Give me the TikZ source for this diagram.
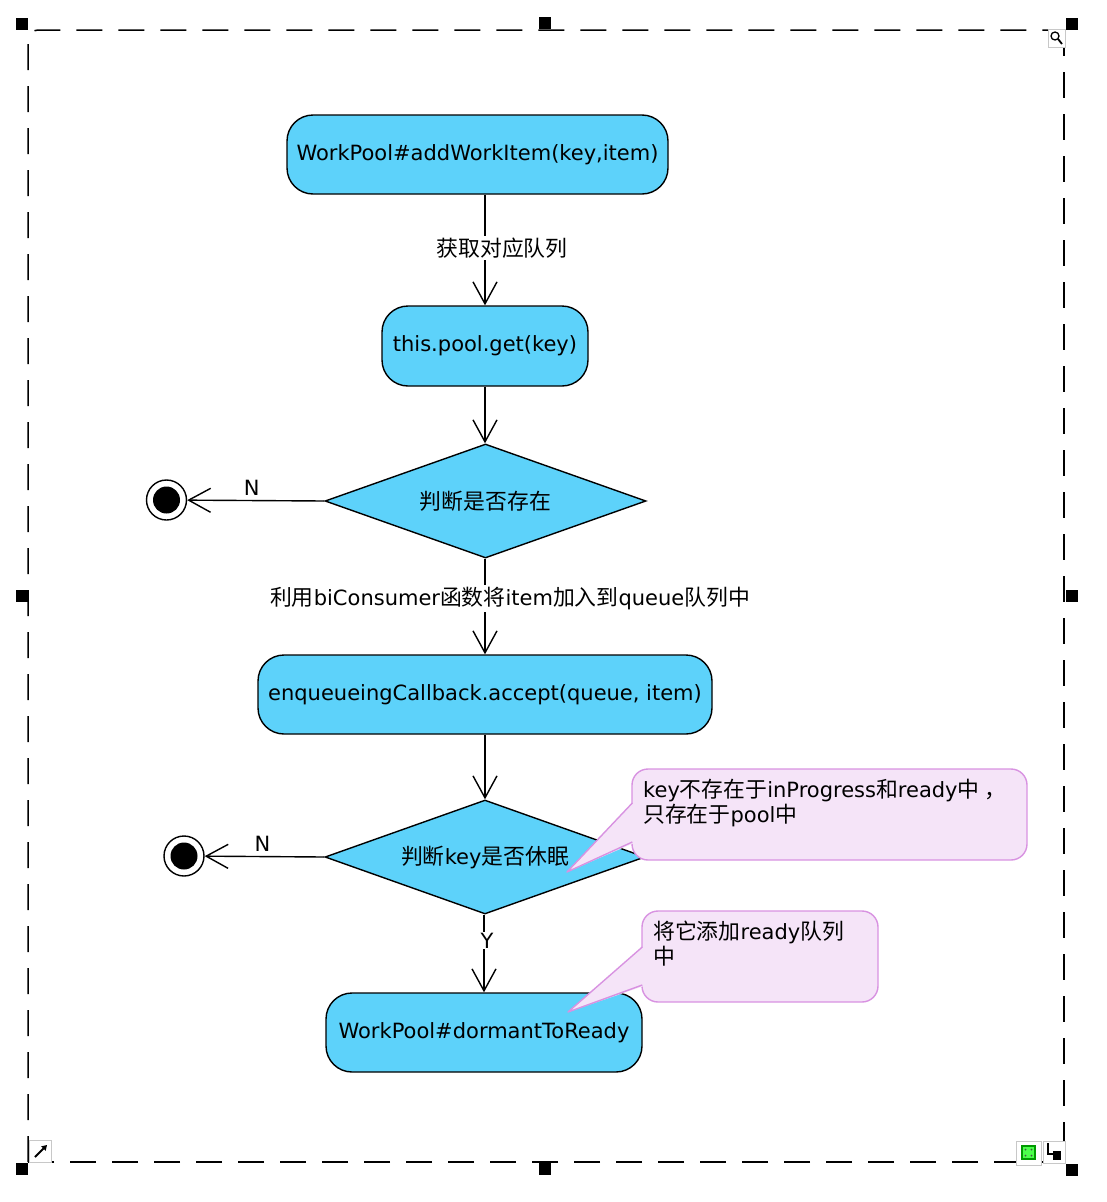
\documentclass[tikz,border=0pt]{standalone}
\usepackage{fontspec}
\setmainfont{DejaVu Sans}
\newfontfamily\cjk{Noto Sans CJK SC}[Scale=1.04]
\usetikzlibrary{arrows.meta,shapes.geometric}
\newcommand\zh[1]{{\cjk #1}}
\definecolor{actfill}{RGB}{93,210,250}
\definecolor{notefill}{RGB}{245,228,248}
\definecolor{noteline}{RGB}{216,146,225}
\definecolor{iconbox}{RGB}{200,200,200}
\begin{document}
\begin{tikzpicture}[x=1pt,y=-1pt,
  every node/.style={font=\fontsize{21}{25}\selectfont},
  act/.style={draw, fill=actfill, line width=1.4pt, rounded corners=26pt, inner sep=0pt},
  dec/.style={draw, fill=actfill, diamond, line width=1.4pt, inner sep=0pt, aspect=2.8},
  endst/.style={circle, draw, line width=1.4pt, minimum size=40pt, inner sep=0pt, fill=white},
  enddot/.style={fill=black},
  flow/.style={line width=1.4pt, -{Straight Barb[length=22pt,width=24pt,line width=1.4pt]}},
  lbl/.style={fill=white, inner sep=2pt},
  note/.style={draw=noteline, fill=notefill, line width=1.4pt, rounded corners=16pt, inner sep=0pt},
  notetext/.style={anchor=north west, align=left, inner sep=0pt},
  handle/.style={fill=black},
  frame/.style={line width=1.5pt, dash pattern=on 26pt off 16pt},
  icon/.style={draw=iconbox, fill=white, line width=1pt},
]
\useasboundingbox (0,0) rectangle (1106,1202);

% selection frame
\draw[frame, rounded corners=10pt] (28,1162) -- (28,30) -- (1064,30);
\draw[frame] (1064,30) -- (1064,1162) -- (28,1162);

% handles
\foreach \hx/\hy in {22/24,545/23,1072/24,22/596,1072/596,22/1169,545/1169,1072/1170}
  \fill[handle] (\hx-6,\hy-6) rectangle (\hx+6,\hy+6);

% icons
\draw[icon] (1048,29) rectangle (1065,47);
\draw[line width=1.3pt] (1055,36) circle (4pt);
\draw[line width=1.8pt] (1058,39) -- (1062,44);
\draw[icon] (29,1140) rectangle (51,1162);
\draw[line width=1.8pt, -{Triangle[length=5pt,width=6pt]}] (35,1157) -- (47,1145);
\draw[icon] (1016,1141) rectangle (1041,1165);
\fill[green!60!black] (1021,1145) rectangle (1036,1160);
\fill[green!70] (1023,1147) rectangle (1034,1158);
\foreach \dx in {1025.5,1031.5} \foreach \dy in {1149.5,1155.5} \fill[black!70] (\dx,\dy) circle (1pt);
\draw[icon] (1043,1141) rectangle (1065,1163);
\draw[line width=1.3pt] (1048,1143) -- (1048,1154) -- (1058,1154);
\fill (1053,1151) rectangle (1061,1160);

% activities
\node[act, minimum width=381pt, minimum height=79pt] (a1) at (477.5,154.5) {WorkPool\#addWorkItem(key,item)};
\node[act, minimum width=206pt, minimum height=80pt] (a2) at (485,346) {this.pool.get(key)};
\node[dec, minimum width=321pt, minimum height=114pt] (d1) at (485.5,501) {\zh{判断是否存在}};
\node[endst] (e1) at (166.5,500) {};
\fill[enddot] (e1.center) circle (13.5pt);
\node[act, minimum width=454pt, minimum height=79pt] (a3) at (485,694.5) {enqueueingCallback.accept(queue, item)};
\node[dec, minimum width=320pt, minimum height=114pt] (d2) at (485,857) {\zh{判断}key\zh{是否休眠}};
\node[endst] (e2) at (184,856) {};
\fill[enddot] (e2.center) circle (13.5pt);
\node[act, minimum width=316pt, minimum height=79pt] (a4) at (484,1032.5) {WorkPool\#dormantToReady};

% flows
\draw[flow] (a2.north |- a1.south) -- node[lbl, xshift=17pt, yshift=2pt]{\zh{获取对应队列}} (a2.north);
\draw[flow] (a2.south) -- (a2.south |- d1.north);
\draw[flow] (d1.west) -- node[above=1pt, xshift=-4pt]{N} (e1);
\draw[flow] (d1.south -| a3.north) -- node[lbl, xshift=25pt, yshift=8pt]{\zh{利用}biConsumer\zh{函数将}item\zh{加入到}queue\zh{队列中}} (a3.north);
\draw[flow] (a3.south) -- (a3.south |- d2.north);
\draw[flow] (d2.west) -- node[above=1pt, xshift=-2pt]{N} (e2);
\draw[flow] (d2.south -| a4.north) -- node[lbl, xshift=3pt, yshift=13pt, inner sep=1pt]{Y} (a4.north);

% note 1
\node[note, minimum width=395pt, minimum height=91pt] (n1) at (829.5,814.5) {};
\coordinate (p1) at (567,872);
\fill[notefill] (634,802) -- (p1) -- (634,843) -- cycle;
\draw[noteline, line width=1.4pt, line join=round] (632.3,803) -- (p1) -- (632.3,842);
\node[notetext] (n1t) at (643,779) {key\zh{不存在于}inProgress\zh{和}ready\zh{中 ，}\\\zh{只存在于}pool\zh{中}};

% note 2
\node[note, minimum width=236pt, minimum height=91pt] (n2) at (760,956.5) {};
\coordinate (p2) at (568,1012);
\fill[notefill] (644,946) -- (p2) -- (644,986) -- cycle;
\draw[noteline, line width=1.4pt, line join=round] (642.3,947) -- (p2) -- (642.3,985);
\node[notetext] (n2t) at (653,921) {\zh{将它添加}ready\zh{队列}\\\zh{中}};
\end{tikzpicture}
\end{document}
